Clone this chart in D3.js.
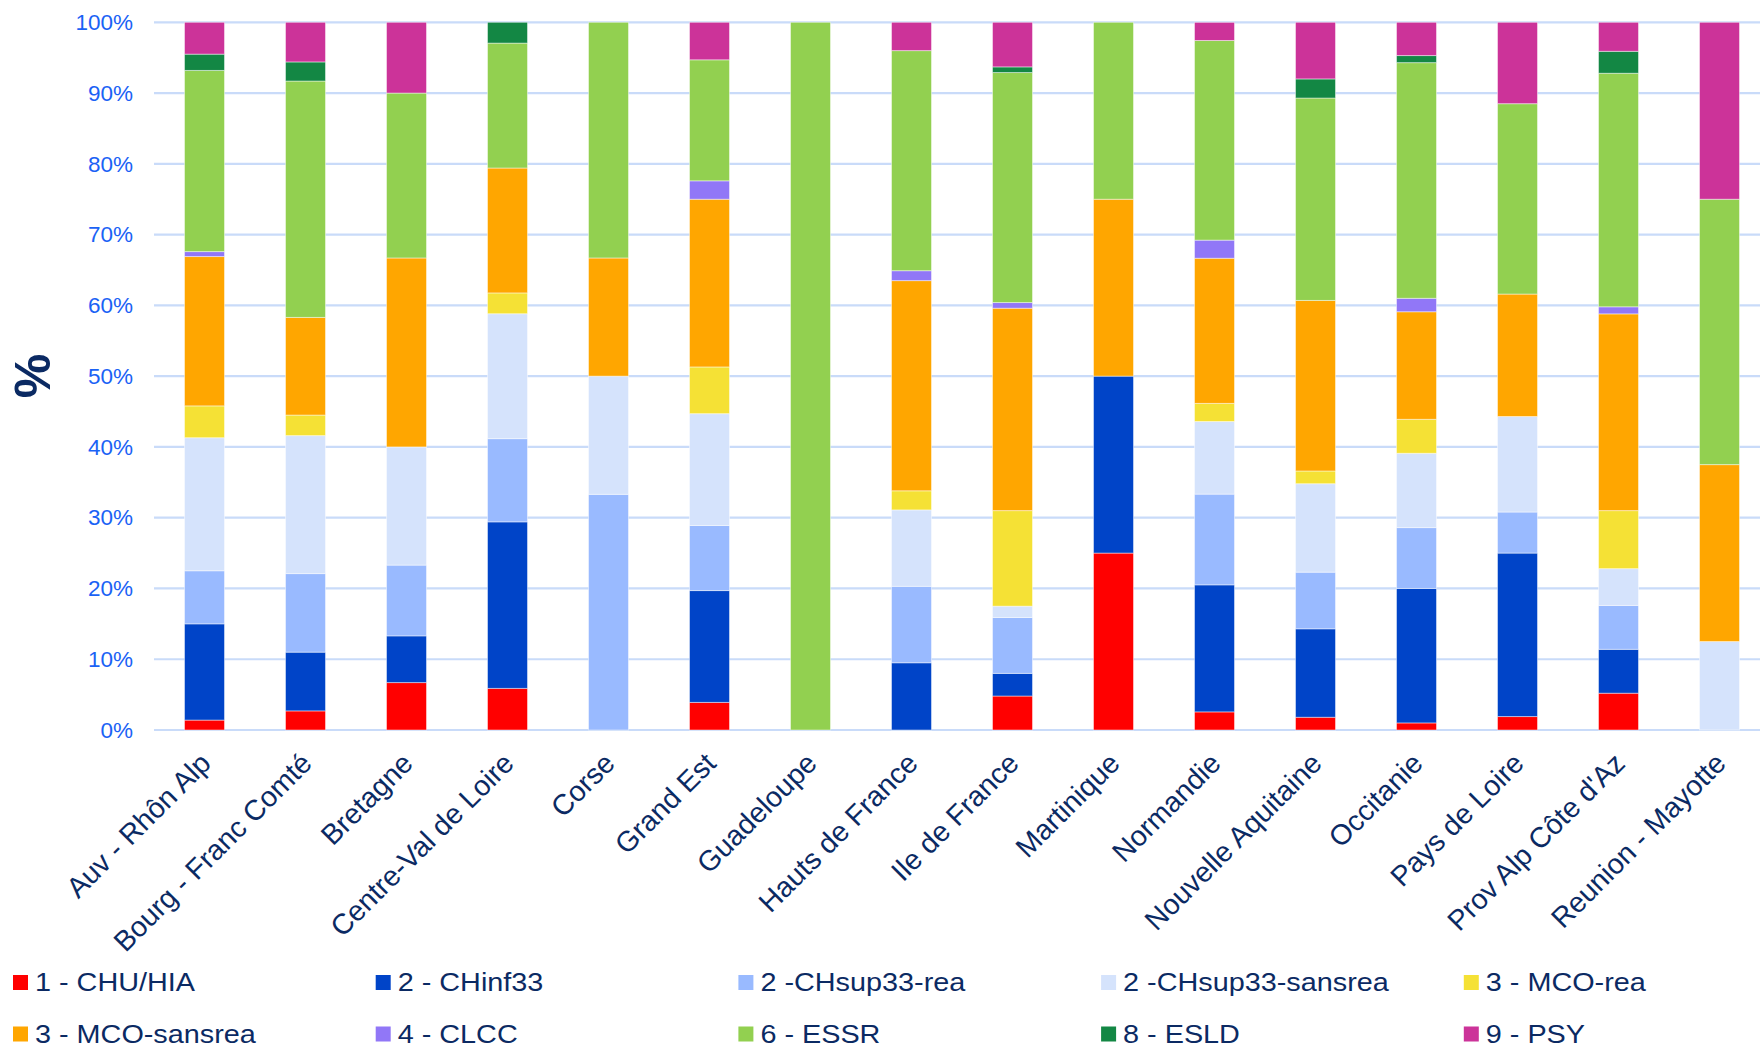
<!DOCTYPE html>
<html>
<head>
<meta charset="utf-8">
<script src="https://cdn.jsdelivr.net/npm/d3@7"></script>
<style>
  html, body { margin: 0; padding: 0; background: #ffffff; }
  svg { display: block; font-family: "Liberation Sans", Arial, Helvetica, sans-serif; }
</style>
</head>
<body>
<svg id="chart" width="1760" height="1047"></svg>
<script>
// ---- Data ----
const categories = ["Auv - Rhôn Alp","Bourg - Franc Comté","Bretagne","Centre-Val de Loire","Corse","Grand Est","Guadeloupe","Hauts de France","Ile de France","Martinique","Normandie","Nouvelle Aquitaine","Occitanie","Pays de Loire","Prov Alp Côte d'Az","Reunion - Mayotte"];

const seriesNames = ["1 - CHU/HIA","2 - CHinf33","2 -CHsup33-rea","2 -CHsup33-sansrea","3 - MCO-rea","3 - MCO-sansrea","4 - CLCC","6 - ESSR","8 - ESLD","9 - PSY"];
const seriesColors = ["#ff0000","#0044c8","#99baff","#d5e3fc","#f5e135","#ffa600","#9177f7","#92d050","#138744","#cc3399"];

const chuHia        = [1.4, 2.7, 6.7, 5.88, 0, 3.9, 0, 0, 4.8, 25, 2.56, 1.8, 1.0, 1.9, 5.2, 0];
const chInf33       = [13.6, 8.3, 6.6, 23.53, 0, 15.8, 0, 9.5, 3.2, 25, 17.95, 12.5, 19.0, 23.1, 6.2, 0];
const chSup33Rea    = [7.5, 11.1, 10.0, 11.76, 33.3, 9.2, 0, 10.8, 7.9, 0, 12.82, 8.0, 8.6, 5.8, 6.2, 0];
const chSup33Sans   = [18.8, 19.5, 16.7, 17.65, 16.7, 15.8, 0, 10.8, 1.6, 0, 10.26, 12.5, 10.5, 13.5, 5.2, 12.5];
const mcoRea        = [4.5, 2.9, 0, 2.94, 0, 6.6, 0, 2.7, 13.5, 0, 2.56, 1.8, 4.8, 0, 8.2, 0];
const mcoSansrea    = [21.1, 13.8, 26.7, 17.65, 16.7, 23.7, 0, 29.7, 28.6, 25, 20.51, 24.1, 15.2, 17.3, 27.8, 25];
const clcc          = [0.7, 0, 0, 0, 0, 2.6, 0, 1.4, 0.8, 0, 2.56, 0, 1.9, 0, 1.0, 0];
const essr          = [25.6, 33.4, 23.3, 17.65, 33.3, 17.1, 100, 31.1, 32.5, 25, 28.21, 28.6, 33.3, 26.9, 33.0, 37.5];
const esld          = [2.3, 2.7, 0, 2.94, 0, 0, 0, 0, 0.8, 0, 0, 2.7, 1.0, 0, 3.1, 0];
const psy           = [4.5, 5.6, 10.0, 0, 0, 5.3, 0, 4.0, 6.3, 0, 2.56, 8.0, 4.8, 11.5, 4.1, 25];

const seriesValues = [chuHia, chInf33, chSup33Rea, chSup33Sans, mcoRea, mcoSansrea, clcc, essr, esld, psy];
const yTicks = [0,10,20,30,40,50,60,70,80,90,100];
const yTitle = "%";

// ---- Build table ----
const keys = seriesNames;
const table = categories.map((c, i) => {
  const row = { category: c };
  keys.forEach((k, j) => { row[k] = seriesValues[j][i]; });
  return row;
});

// ---- Layout ----
const svg = d3.select("#chart");
const plotLeft = 154, plotRight = 1770, plotTop = 22.3, plotBottom = 730;

const x = d3.scaleBand()
  .domain(categories)
  .range([plotLeft, plotRight])
  .paddingInner(0.604)
  .paddingOuter(0.302);

const y = d3.scaleLinear().domain([0, 100]).range([plotBottom, plotTop]);
const color = d3.scaleOrdinal().domain(keys).range(seriesColors);

// gridlines
svg.append("g").selectAll("line")
  .data(yTicks)
  .join("line")
  .attr("x1", plotLeft).attr("x2", 1760)
  .attr("y1", d => y(d)).attr("y2", d => y(d))
  .attr("stroke", "#c9dbf9")
  .attr("stroke-width", 2.2);

// y axis labels
const yAxis = d3.axisLeft(y).tickValues(yTicks).tickSize(0).tickPadding(21)
  .tickFormat(d => d + "%");
const yG = svg.append("g").attr("transform", `translate(${plotLeft},0)`).call(yAxis);
yG.select(".domain").remove();
yG.selectAll("text")
  .attr("fill", "#1a62f5")
  .style("font-size", "22.5px")
  .style("font-family", "'Liberation Sans', Arial, sans-serif");

// y title
svg.append("text")
  .attr("transform", "translate(50,376) rotate(-90)")
  .attr("text-anchor", "middle")
  .attr("fill", "#0b2a63")
  .style("font-size", "50px")
  .style("font-weight", "bold")
  .text(yTitle);

// bars
const stacked = d3.stack().keys(keys)(table);
svg.append("g").selectAll("g")
  .data(stacked)
  .join("g")
  .attr("fill", d => color(d.key))
  .selectAll("rect")
  .data(d => d)
  .join("rect")
  .attr("x", d => x(d.data.category))
  .attr("width", x.bandwidth())
  .attr("y", d => y(Math.min(100, d[1])))
  .attr("height", d => Math.max(0, y(d[0]) - y(Math.min(100, d[1]))))
  .attr("stroke", "rgba(255,255,255,0.45)")
  .attr("stroke-width", d => (d[1] - d[0]) > 0 ? 1 : 0);

// x axis labels
const xAxis = d3.axisBottom(x).tickSize(0).tickPadding(0);
const xG = svg.append("g").attr("transform", `translate(0,${plotBottom})`).call(xAxis);
xG.select(".domain").remove();
xG.selectAll(".tick text")
  .attr("text-anchor", "end")
  .attr("fill", "#0b2a63")
  .style("font-size", "28.5px")
  .style("font-family", "'Liberation Sans', Arial, sans-serif")
  .attr("y", 0).attr("dy", "0.35em")
  .attr("transform", "translate(1,28) rotate(-45)");

// legend
const legend = svg.append("g");
const colStep = 362.7;
const legItems = legend.selectAll("g")
  .data(keys)
  .join("g")
  .attr("transform", (d, i) => `translate(${13 + (i % 5) * colStep},${975 + Math.floor(i / 5) * 51.5})`);
legItems.append("rect")
  .attr("width", 15).attr("height", 15)
  .attr("fill", d => color(d));
legItems.append("text")
  .attr("transform", "translate(22,16) scale(1.13,1)")
  .attr("fill", "#0b2a63")
  .style("font-size", "25.5px")
  .text(d => d);
</script>
</body>
</html>
